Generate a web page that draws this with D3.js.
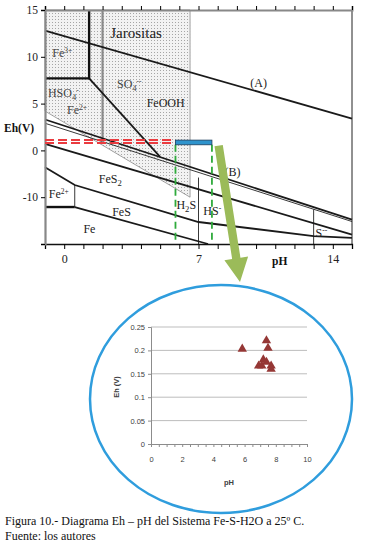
<!DOCTYPE html>
<html>
<head>
<meta charset="utf-8">
<script src="https://cdn.jsdelivr.net/npm/d3@7"></script>
<style>
  body { margin: 0; background: #fff; }
  svg { display: block; }
</style>
</head>
<body>
<svg id="chart" width="384" height="546"></svg>
<script>
// ---- Eh-pH diagram boundaries (pH, Eh units as drawn on the diagram) ----
const lineA = [[-1, 12.8], [15, 3.4]];
const jarositeEdge = [[1.3, 15], [1.3, 7.7], [-1, 7.7]];
const sulfateDiag = [[1.3, 7.7], [5.0, -0.7]];
const bisulfateEdge = [[2, 15], [2, 0.8]];
const pyriteTop = [[-1, 3.3], [15, -7.4]];
const pyriteTopThin = [[-1, 2.9], [15, -7.6]];
const pyriteBottom = [[-1, 0.7], [15, -9.0]];
const sulfideLine = [[-1, -1.8], [0.55, -3.7], [7, -7.65], [13, -9.15], [15, -9.35]];
const ironLine = [[0.55, -6.05], [7.5, -10]];
const ferrousBoxBottom = [[-1, -6.05], [0.55, -6.05]];
const ferrousBoxSide = [[0.55, -3.7], [0.55, -6.05]];
const h2sEdge = [[7, -2.9], [7, -10]];
const sulfideEdge = [[13, -6.3], [13, -10]];
const stippleArea = [[-1, 15], [6.56, 15], [6.56, -5.0], [-1, 4.2]];

// region names: "_" = subscript next char, "^" = superscript rest
const regionLabels = ['Jarositas', 'Fe^3+', 'SO_4^--', 'HSO_4^-', 'Fe^2+', 'FeOOH', '(A)', '(B)',
  'FeS_2', 'Fe^2+', 'FeS', 'Fe', 'H_2S', 'HS^-', 'S^--'];
const labelPH = [2.4, -0.62, 2.75, -0.85, 0.15, 4.3, 9.7, 8.35, 1.8, -0.8, 2.5, 1.0, 5.85, 7.25, 13.1];
const labelEh = [12.0, 10.0, 6.7, 5.7, 3.9, 4.65, 6.8, -2.7, -3.5, -5.1, -7.0, -8.8, -6.3, -6.9, -9.25];

const yTickValues = [15, 10, 5, 0, -5];
const yTickLabels = ['15', '10', '5', '0', '-10'];
const xTickLabels = [0, 7, 14];

// measured range marked on the diagram
const ehBand = [1.1, 0.8];
const phRange = [5.8, 7.7];

// ---- field samples shown in the zoomed inset ----
const samplePH = [5.85, 7.4, 7.5, 7.2, 6.9, 7.1, 7.4, 7.7, 7.7];
const sampleEh = [0.203, 0.221, 0.205, 0.180, 0.167, 0.167, 0.175, 0.167, 0.160];
const insetYTicks = [0, 0.05, 0.1, 0.15, 0.2, 0.25];
const insetXTicks = [0, 2, 4, 6, 8, 10];

const svg = d3.select('#chart');
const serif = "'Liberation Serif', 'Times New Roman', serif";
const sans = "'Liberation Sans', Arial, sans-serif";

const x = d3.scaleLinear().domain([-1, 15]).range([45, 352]);
const y = d3.scaleLinear().domain([-10, 15]).range([244, 10]);
const line = d3.line().x(d => x(d[0])).y(d => y(d[1]));

// stipple pattern
const pat = svg.append('defs').append('pattern')
  .attr('id', 'dots').attr('width', 3).attr('height', 3)
  .attr('patternUnits', 'userSpaceOnUse');
pat.append('rect').attr('width', 3).attr('height', 3).attr('fill', '#f2f2f2');
pat.append('rect').attr('x', 1).attr('y', 1).attr('width', 1).attr('height', 1).attr('fill', '#a5a5a5');

const main = svg.append('g');

main.append('path').datum(stippleArea)
  .attr('d', d => line(d) + 'Z')
  .attr('fill', 'url(#dots)')
  .attr('stroke', '#666').attr('stroke-width', 0.6);

// thin lines
[pyriteTopThin, ferrousBoxSide, h2sEdge, sulfideEdge].forEach(d => {
  main.append('path').datum(d).attr('d', line)
    .attr('fill', 'none').attr('stroke', '#222').attr('stroke-width', 0.9);
});
main.append('path').datum(bisulfateEdge).attr('d', line)
  .attr('fill', 'none').attr('stroke', '#8a8a8a').attr('stroke-width', 2.2);

// thick lines
[lineA, sulfateDiag, pyriteTop, pyriteBottom, sulfideLine, ironLine].forEach(d => {
  main.append('path').datum(d).attr('d', line)
    .attr('fill', 'none').attr('stroke', '#1a1a1a').attr('stroke-width', 1.8);
});
[jarositeEdge, ferrousBoxBottom].forEach(d => {
  main.append('path').datum(d).attr('d', line)
    .attr('fill', 'none').attr('stroke', '#111').attr('stroke-width', 2.4);
});

// frame & axes
main.append('line').attr('x1', x(15)).attr('x2', x(15)).attr('y1', y(15)).attr('y2', y(-10))
  .attr('stroke', '#222').attr('stroke-width', 1);

const topAxis = main.append('g').attr('transform', `translate(0,${y(15)})`)
  .call(d3.axisTop(x).tickValues(d3.range(-1, 16)).tickSize(4).tickFormat(''));
topAxis.select('.domain').attr('stroke', '#888').attr('stroke-width', 2);

const bottomAxis = main.append('g').attr('transform', `translate(0,${y(-10)})`)
  .call(d3.axisBottom(x).tickValues(d3.range(-1, 16)).tickSize(5)
    .tickFormat(d => xTickLabels.includes(d) ? d : ''));
bottomAxis.select('.domain').attr('stroke', '#111').attr('stroke-width', 1.3);
bottomAxis.selectAll('text').attr('font-family', serif).attr('font-size', 12).attr('fill', '#222').attr('dy', '0.9em');

const leftAxis = main.append('g').attr('transform', `translate(${x(-1)},0)`)
  .call(d3.axisLeft(y).tickValues(yTickValues.concat([-10])).tickSize(4)
    .tickFormat(d => { const i = yTickValues.indexOf(d); return i < 0 ? '' : yTickLabels[i]; }));
leftAxis.select('.domain').attr('stroke', '#888').attr('stroke-width', 2.2);
leftAxis.selectAll('text').attr('font-family', serif).attr('font-size', 11.5).attr('fill', '#222');

main.append('text').attr('x', 4).attr('y', 132).text('Eh(V)')
  .attr('font-family', serif).attr('font-weight', 'bold').attr('font-size', 11.5).attr('fill', '#111');
main.append('text').attr('x', 272).attr('y', 265).text('pH')
  .attr('font-family', serif).attr('font-weight', 'bold').attr('font-size', 11.5).attr('fill', '#111');

// region labels
function richText(g, s, px, py, size, color) {
  const t = g.append('text').attr('x', px).attr('y', py)
    .attr('font-family', serif).attr('font-size', size).attr('fill', color);
  let i = 0, shift = 0;
  let buf = '';
  const flush = () => { if (buf) { t.append('tspan').attr('dy', -shift).text(buf); shift = 0; buf = ''; } };
  while (i < s.length) {
    const c = s[i];
    if (c === '_') {
      flush();
      t.append('tspan').attr('dy', 3 - shift).attr('font-size', size * 0.72).text(s[i + 1]);
      shift = 3; i += 2;
    } else if (c === '^') {
      flush();
      t.append('tspan').attr('dy', -4 - shift).attr('font-size', size * 0.62).text(s.slice(i + 1));
      shift = -4; i = s.length;
    } else { buf += c; i++; }
  }
  flush();
}
regionLabels.forEach((s, i) => {
  const inStipple = i >= 1 && i <= 4;
  richText(main, s, x(labelPH[i]), y(labelEh[i]), i === 0 ? 15 : 12, inStipple ? '#444' : '#222');
});

// measured Eh band (red dashes) and pH range
ehBand.forEach(v => {
  main.append('line').attr('x1', x(-1)).attr('x2', x(5.67)).attr('y1', y(v)).attr('y2', y(v))
    .attr('stroke', '#ea3b3f').attr('stroke-width', 2).attr('stroke-dasharray', '9,4');
});
phRange.forEach(v => {
  main.append('line').attr('x1', x(v)).attr('x2', x(v)).attr('y1', y(0.6)).attr('y2', y(-9.6))
    .attr('stroke', '#2faa3c').attr('stroke-width', 1.8).attr('stroke-dasharray', '7,4');
});
main.append('rect')
  .attr('x', x(phRange[0])).attr('y', y(ehBand[0]))
  .attr('width', x(phRange[1]) - x(phRange[0])).attr('height', y(0.6) - y(ehBand[0]))
  .attr('fill', '#2e93cc').attr('stroke', '#1d3d5c').attr('stroke-width', 0.8);

// ---- inset (zoom circle) ----
const inset = svg.append('g');
const ix = d3.scaleLinear().domain([0, 10]).range([151, 307]);
const iy = d3.scaleLinear().domain([0, 0.25]).range([444, 327]);

inset.append('g').selectAll('line').data(insetYTicks.slice(1)).join('line')
  .attr('x1', ix(0)).attr('x2', ix(10)).attr('y1', d => iy(d)).attr('y2', d => iy(d))
  .attr('stroke', '#b5b5b5').attr('stroke-width', 0.9);

const iyAxis = inset.append('g').attr('transform', `translate(${ix(0)},0)`)
  .call(d3.axisLeft(iy).tickValues(insetYTicks).tickSize(3).tickFormat((d, i) => String(insetYTicks[i])));
const ixAxis = inset.append('g').attr('transform', `translate(0,${iy(0)})`)
  .call(d3.axisBottom(ix).tickValues(d3.range(0, 10.01, 0.5)).tickSize(3)
    .tickFormat(d => insetXTicks.includes(d) ? d : ''));
[iyAxis, ixAxis].forEach(a => {
  a.select('.domain').attr('stroke', '#8c8c8c');
  a.selectAll('.tick line').attr('stroke', '#8c8c8c');
  a.selectAll('text').attr('font-family', sans).attr('font-size', 7.5).attr('fill', '#404040');
});
ixAxis.selectAll('text').attr('dy', '1.6em');
iyAxis.selectAll('text').attr('x', -6);

inset.append('text').attr('transform', `translate(119,387) rotate(-90)`)
  .attr('text-anchor', 'middle').attr('font-family', sans).attr('font-size', 7.5)
  .attr('font-weight', 'bold').attr('fill', '#404040')
  .text('Eh (V)');
inset.append('text').attr('x', 229).attr('y', 485).attr('text-anchor', 'middle')
  .attr('font-family', sans).attr('font-size', 7.5).attr('font-weight', 'bold')
  .attr('fill', '#404040').text('pH');

inset.append('g').selectAll('path').data(samplePH).join('path')
  .attr('d', d3.symbol(d3.symbolTriangle, 38))
  .attr('transform', (d, i) => `translate(${ix(d)},${iy(sampleEh[i])})`)
  .attr('fill', '#953735');

inset.append('ellipse').attr('cx', 221).attr('cy', 399).attr('rx', 131).attr('ry', 114)
  .attr('fill', 'none').attr('stroke', '#2f9ddd').attr('stroke-width', 2.5);

// ---- green arrow from diagram to inset ----
const s0 = [x(8.05), y(0.5)], tip = [240, 282];
const dx = tip[0] - s0[0], dy = tip[1] - s0[1], len = Math.hypot(dx, dy);
const u = [dx / len, dy / len], n = [u[1], -u[0]];
const headLen = 24, shaft = 4.2, head = 12;
const b = [tip[0] - u[0] * headLen, tip[1] - u[1] * headLen];
const pt = (p, k) => [p[0] + n[0] * k, p[1] + n[1] * k];
const arrowPts = [pt(s0, shaft), pt(b, shaft), pt(b, head), tip, pt(b, -head), pt(b, -shaft), pt(s0, -shaft)];
svg.append('path').attr('d', d3.line()(arrowPts) + 'Z').attr('fill', '#9bbb59');

// ---- caption ----
svg.append('text').attr('x', 5).attr('y', 525).attr('font-family', serif).attr('font-size', 12).attr('fill', '#111')
  .text('Figura 10.- Diagrama Eh \u2013 pH del Sistema Fe-S-H2O a 25\u00ba C.');
svg.append('text').attr('x', 5).attr('y', 540).attr('font-family', serif).attr('font-size', 12).attr('fill', '#111')
  .text('Fuente: los autores');
</script>
</body>
</html>
